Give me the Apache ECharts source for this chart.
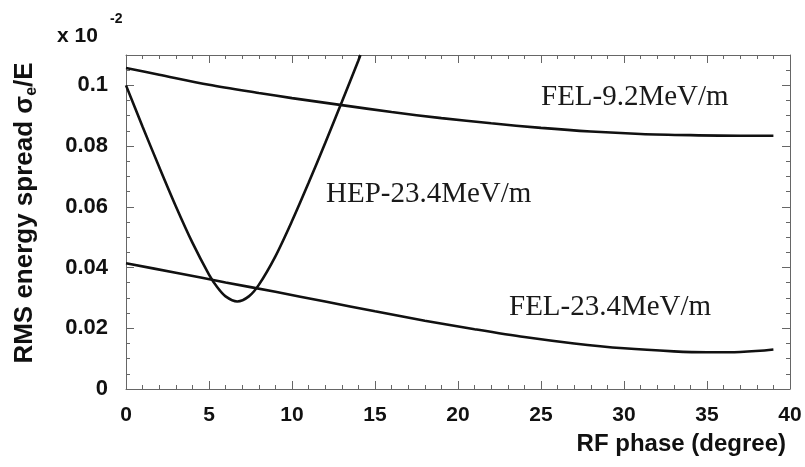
<!DOCTYPE html>
<html>
<head>
<meta charset="utf-8">
<script src="https://cdn.jsdelivr.net/npm/echarts@6/dist/echarts.min.js"></script>
<style>
html,body{margin:0;padding:0;background:#fff;}
#chart{width:805px;height:467px;}
</style>
</head>
<body>
<div id="chart"></div>
<script>
// ---- data ----
const xFEL92 = [0, 2, 5, 8, 10, 13, 16, 19, 22, 25, 28, 31, 34, 37, 39];
const yFEL92 = [0.1057, 0.1035, 0.1002, 0.0975, 0.0958, 0.0935, 0.0912, 0.0892, 0.0875, 0.0860, 0.0848, 0.0840, 0.0836, 0.0834, 0.0834];

const xHEP = [0, 1, 2, 3, 4, 5, 5.5, 6, 6.7, 7.4, 8, 9, 10, 11, 12, 13, 14, 14.12];
const yHEP = [0.100, 0.0864, 0.0731, 0.0602, 0.0482, 0.0377, 0.0335, 0.0305, 0.0288, 0.0305, 0.0343, 0.0437, 0.0553, 0.0679, 0.0810, 0.0945, 0.1082, 0.110];

const xFEL234 = [0, 3, 6, 9, 12, 15, 18, 21, 24, 27, 30, 33, 35, 37, 39];
const yFEL234 = [0.0414, 0.0383, 0.0351, 0.0320, 0.0288, 0.0256, 0.0225, 0.0197, 0.0171, 0.0150, 0.0134, 0.0124, 0.0121, 0.0122, 0.0130];

const seriesNames = ['FEL-9.2MeV/m', 'HEP-23.4MeV/m', 'FEL-23.4MeV/m'];
const xTitle = 'RF phase (degree)';
const yTitle = 'RMS energy spread σ';
const xRange = [0, 40];
const yRange = [0, 0.11];

function pairs(xs, ys) { return xs.map((x, i) => [x, ys[i]]); }

const chart = echarts.init(document.getElementById('chart'), null, {renderer: 'canvas'});

const axisGray = '#666';
const labelFont = {fontFamily: 'Liberation Sans, Arial, sans-serif', fontWeight: 'bold', fontSize: 21, color: '#111'};

function baseAxis(extra) {
  return Object.assign({
    type: 'value',
    axisLine: {show: true, onZero: false, lineStyle: {color: axisGray, width: 1}},
    axisTick: {show: true, inside: true, length: 8, lineStyle: {color: axisGray}},
    minorTick: {show: true, length: 4, lineStyle: {color: axisGray}},
    splitLine: {show: false},
    minorSplitLine: {show: false}
  }, extra);
}

const lineStyle = {color: '#111', width: 2.6};

const option = {
  animation: false,
  backgroundColor: '#fff',
  grid: {left: 126, right: 15, top: 55, bottom: 78, containLabel: false},
  xAxis: [
    baseAxis({min: xRange[0], max: xRange[1], interval: 5, position: 'bottom',
      minorTick: {show: true, splitNumber: 5, length: 4, lineStyle: {color: axisGray}},
      axisLabel: Object.assign({margin: 16}, labelFont)}),
    baseAxis({min: xRange[0], max: xRange[1], interval: 5, position: 'top',
      minorTick: {show: true, splitNumber: 5, length: 4, lineStyle: {color: axisGray}},
      axisLabel: {show: false}})
  ],
  yAxis: [
    baseAxis({min: yRange[0], max: yRange[1], interval: 0.02, position: 'left',
      minorTick: {show: true, splitNumber: 4, length: 4, lineStyle: {color: axisGray}},
      axisLabel: Object.assign({margin: 18, showMaxLabel: false,
        formatter: v => (+(+v).toFixed(3)).toString()}, labelFont, {fontSize: 22})}),
    baseAxis({min: yRange[0], max: yRange[1], interval: 0.02, position: 'right',
      minorTick: {show: true, splitNumber: 4, length: 4, lineStyle: {color: axisGray}},
      axisLabel: {show: false}})
  ],
  series: [
    {name: seriesNames[0], type: 'line', data: pairs(xFEL92, yFEL92), smooth: 0.3, symbol: 'none', lineStyle: lineStyle, clip: true},
    {name: seriesNames[1], type: 'line', data: pairs(xHEP, yHEP), smooth: 0.3, symbol: 'none', lineStyle: lineStyle, clip: true},
    {name: seriesNames[2], type: 'line', data: pairs(xFEL234, yFEL234), smooth: 0.3, symbol: 'none', lineStyle: lineStyle, clip: true}
  ],
  graphic: [
    {type: 'text', left: 541, top: 83, style: {text: seriesNames[0], font: '29px "Liberation Serif", "Times New Roman", serif', fill: '#1a1a1a'}},
    {type: 'text', left: 326, top: 180, style: {text: seriesNames[1], font: '29px "Liberation Serif", "Times New Roman", serif', fill: '#1a1a1a'}},
    {type: 'text', left: 509, top: 293, style: {text: seriesNames[2], font: '29px "Liberation Serif", "Times New Roman", serif', fill: '#1a1a1a'}},
    {type: 'text', x: 57, y: 36, style: {text: 'x 10', font: 'bold 21px "Liberation Sans", Arial, sans-serif', fill: '#111', verticalAlign: 'middle', align: 'left'}},
    {type: 'text', x: 110, y: 19, style: {text: '-2', font: 'bold 14px "Liberation Sans", Arial, sans-serif', fill: '#111', verticalAlign: 'middle', align: 'left'}},
    {type: 'text', x: 786, y: 444, style: {text: xTitle, font: 'bold 24px "Liberation Sans", Arial, sans-serif', fill: '#111', verticalAlign: 'middle', align: 'right'}},
    {type: 'text', x: 25, y: 213, rotation: Math.PI / 2,
      style: {text: '{a|' + yTitle + '}{b|e}{a|/E}', align: 'center', verticalAlign: 'middle',
        rich: {
          a: {fontFamily: 'Liberation Sans, Arial, sans-serif', fontWeight: 'bold', fontSize: 26, lineHeight: 30, fill: '#111', color: '#111'},
          b: {fontFamily: 'Liberation Sans, Arial, sans-serif', fontWeight: 'bold', fontSize: 16, lineHeight: 15, verticalAlign: 'bottom', fill: '#111', color: '#111'}
        }}}
  ]
};
chart.setOption(option);
</script>
</body>
</html>
